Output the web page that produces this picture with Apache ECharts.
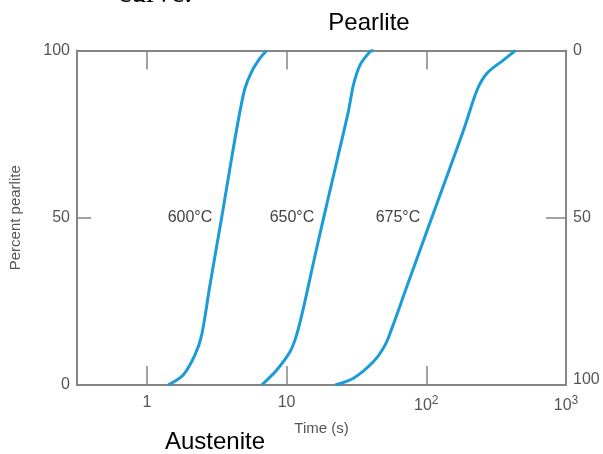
<!DOCTYPE html>
<html>
<head>
<meta charset="utf-8">
<style>
  html, body { margin: 0; padding: 0; background: #fff; }
  #chart { width: 603px; height: 454px; }
</style>
<script src="https://cdn.jsdelivr.net/npm/echarts@6/dist/echarts.min.js"></script>
</head>
<body>
<div id="chart"></div>
<script>
const time600 = [1.42, 1.82, 2.21, 2.47, 2.83, 3.43, 4.05, 4.64, 5.04, 5.63, 6.46, 7.21];
const pct600 = [0, 3.0, 9.0, 15.0, 29.9, 50.0, 68.0, 81.8, 88.7, 93.7, 97.7, 100];

const time650 = [6.64, 8.51, 10.6, 11.8, 13.2, 16.0, 18.4, 22.9, 27.7, 30.1, 33.6, 39.7, 41.9];
const pct650 = [0, 4.5, 10.0, 15.0, 23.0, 38.8, 49.9, 66.9, 81.8, 89.7, 95.7, 99.7, 100];

const time675 = [22.3, 30.1, 41.9, 50.8, 56.8, 72.7, 101, 133, 185, 231, 272, 358, 434];
const pct675 = [0, 2.0, 7.0, 12.0, 17.0, 29.5, 46.0, 59.7, 76.2, 88.2, 93.2, 97.2, 100];

const curveNames = ['600°C', '650°C', '675°C'];
const timeTicks = { 1: '1', 10: '10', 100: '10{sup|2}', 1000: '10{sup|3}' };

const axisColor = '#858585';
const labelColor = '#555';
const lineColor = '#1b9bd7';

function pairs(xs, ys) {
  return xs.map((x, i) => [x, ys[i]]);
}

function timeLabel(v) {
  const e = Math.log10(v);
  if (Math.abs(e - Math.round(e)) > 1e-6) return '';
  return timeTicks[Math.round(Math.pow(10, Math.round(e)))] || '';
}

const chart = echarts.init(document.getElementById('chart'));

const baseX = {
  type: 'log',
  logBase: 10,
  min: Math.pow(10, -0.5),
  max: 1000,
  splitLine: { show: false },
  axisLine: { lineStyle: { color: axisColor, width: 2 } },
  axisTick: { inside: true, length: 19, lineStyle: { color: axisColor, width: 1.5 } },
};

const option = {
  backgroundColor: '#fff',
  animation: false,
  grid: { left: 77, right: 37, top: 50.5, bottom: 69 },
  xAxis: [
    Object.assign({}, baseX, {
      position: 'bottom',
      name: 'Time (s)',
      nameLocation: 'middle',
      nameGap: 36,
      nameTextStyle: { fontSize: 15, color: labelColor, fontFamily: 'Liberation Sans' },
      axisLabel: {
        fontSize: 16,
        color: labelColor,
        fontFamily: 'Liberation Sans',
        margin: 10,
        formatter: timeLabel,
        rich: { sup: { fontSize: 12, color: labelColor, padding: [0, 0, 10, 0] } },
      },
    }),
    Object.assign({}, baseX, {
      position: 'top',
      axisLabel: { show: false },
    }),
  ],
  yAxis: [
    {
      type: 'value',
      position: 'left',
      min: 0,
      max: 100,
      interval: 50,
      name: 'Percent pearlite',
      nameLocation: 'middle',
      nameGap: 54,
      nameTextStyle: { fontSize: 15, color: labelColor, fontFamily: 'Liberation Sans' },
      splitLine: { show: false },
      axisLine: { show: true, lineStyle: { color: axisColor, width: 2 } },
      axisTick: { inside: true, length: 14, lineStyle: { color: axisColor, width: 1.5 } },
      axisLabel: { fontSize: 16, color: labelColor, fontFamily: 'Liberation Sans', margin: 7 },
    },
    {
      type: 'value',
      position: 'right',
      inverse: true,
      min: 0,
      max: 100,
      interval: 50,
      splitLine: { show: false },
      axisLine: { show: true, lineStyle: { color: axisColor, width: 2 } },
      axisTick: { inside: true, length: 20, lineStyle: { color: axisColor, width: 1.5 } },
      axisLabel: {
        fontSize: 16,
        color: labelColor,
        fontFamily: 'Liberation Sans',
        margin: 7,
        formatter: (v) => (v === 100 ? '{lift|100}' : String(v)),
        rich: { lift: { fontSize: 16, color: labelColor, padding: [0, 0, 11, 0] } },
      },
    },
  ],
  series: [
    [time600, pct600],
    [time650, pct650],
    [time675, pct675],
  ].map((d, i) => ({
    name: curveNames[i],
    type: 'line',
    data: pairs(d[0], d[1]),
    smooth: 0.3,
    showSymbol: false,
    lineStyle: { color: lineColor, width: 3 },
  })),
  graphic: [
    { type: 'text', x: 118, y: -6, style: { text: 'curve.', font: '30px "Liberation Serif"', fill: '#000', textVerticalAlign: 'middle' } },
    { type: 'text', x: 369, y: 23, style: { text: 'Pearlite', font: '24px "Liberation Sans"', fill: '#000', textAlign: 'center', textVerticalAlign: 'middle' } },
    { type: 'text', x: 215, y: 442, style: { text: 'Austenite', font: '24px "Liberation Sans"', fill: '#000', textAlign: 'center', textVerticalAlign: 'middle' } },
    { type: 'text', x: 190, y: 218, style: { text: curveNames[0], font: '16px "Liberation Sans"', fill: '#444', textAlign: 'center', textVerticalAlign: 'middle' } },
    { type: 'text', x: 292, y: 218, style: { text: curveNames[1], font: '16px "Liberation Sans"', fill: '#444', textAlign: 'center', textVerticalAlign: 'middle' } },
    { type: 'text', x: 398, y: 218, style: { text: curveNames[2], font: '16px "Liberation Sans"', fill: '#444', textAlign: 'center', textVerticalAlign: 'middle' } },
  ],
};

chart.setOption(option);
</script>
</body>
</html>
